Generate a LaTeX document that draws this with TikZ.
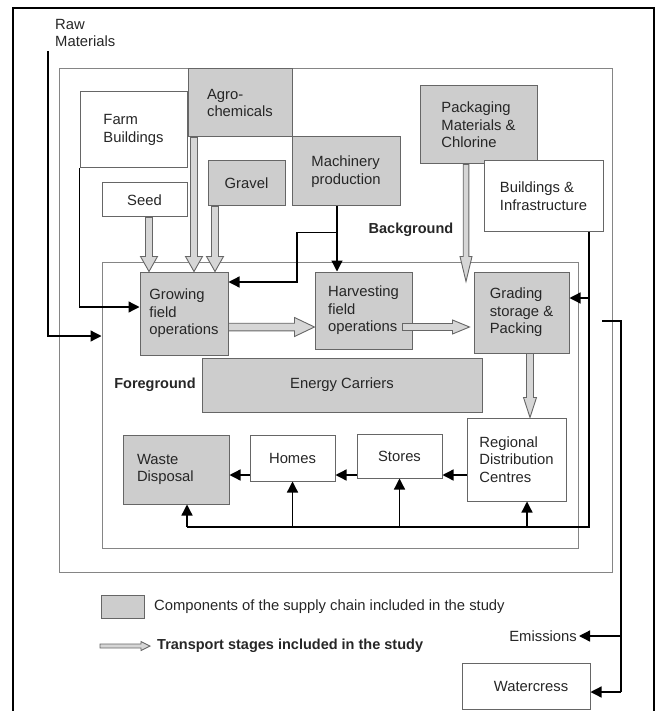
\documentclass[tikz,border=0pt]{standalone}
\usepackage{fontspec}
\setmainfont{Liberation Sans}
\usetikzlibrary{arrows.meta,calc}

\definecolor{boxgray}{HTML}{CDCDCD}
\definecolor{edgegray}{HTML}{666666}
\definecolor{framegray}{HTML}{858585}
\definecolor{arrowfill}{HTML}{D6D6D6}
\definecolor{ink}{HTML}{262626}

% hollow transport arrow pointing down: start, end, shaft half-width, head half-width, head length
\newcommand\blkdown[5]{%
  \draw[blockarrow] let \p1=#1, \p2=#2 in
    (\x1-#3,\y1) -- (\x1-#3,\y2+#5) -- (\x1-#4,\y2+#5) -- (\x1,\y2)
    -- (\x1+#4,\y2+#5) -- (\x1+#3,\y2+#5) -- (\x1+#3,\y1) -- cycle;}
% hollow transport arrow pointing right
\newcommand\blkright[5]{%
  \draw[blockarrow] let \p1=#1, \p2=#2 in
    (\x1,\y1-#3) -- (\x2-#5,\y1-#3) -- (\x2-#5,\y1-#4) -- (\x2,\y1)
    -- (\x2-#5,\y1+#4) -- (\x2-#5,\y1+#3) -- (\x1,\y1+#3) -- cycle;}

\tikzset{
  every node/.style={text=ink, font=\fontsize{14.8}{17.5}\selectfont},
  unit/.style={draw=edgegray, line width=1pt, inner sep=0pt, align=left, fill=white},
  incl/.style={unit, fill=boxgray},
  frame/.style={draw=framegray, line width=1pt, inner sep=0pt},
  link/.style={line width=1.3pt, draw=black, -{Triangle[length=11pt,width=11pt]}},
  plainlink/.style={line width=1.3pt, draw=black},
  blockarrow/.style={draw=edgegray, fill=arrowfill, line width=0.9pt},
  tag/.style={font=\fontsize{14.5}{17}\selectfont\bfseries, inner sep=0pt}
}

\begin{document}
\begin{tikzpicture}[x=1pt,y=-1pt]
\useasboundingbox (0,0) rectangle (658,711);

% page frame
\draw[line width=1.2pt] (13,712) -- (13,8) -- (654,8) -- (654,712);

% system boundaries
\node[frame, minimum width=553pt, minimum height=503pt] (bg) at (335.5,320.5) {};
\node[frame, minimum width=476pt, minimum height=286pt] (fg) at (340,405) {};
\node[tag] (bglabel) at (411,230) {Background};
\node[tag] (fglabel) at (155,385) {Foreground};
\node[anchor=north west, align=left, inner sep=0pt] (raw) at (55,19) {Raw\\Materials};

% background inputs
\node[unit, minimum width=107pt, minimum height=76pt] (farm) at (133.5,130) {Farm\\Buildings};
\node[incl, minimum width=104pt, minimum height=68pt] (agro) at (240,103) {Agro-\\chemicals};
\node[unit, minimum width=85pt, minimum height=34pt] (seed) at (144.5,200) {Seed};
\node[incl, minimum width=77pt, minimum height=45pt] (gravel) at (246.5,183.5) {Gravel};
\node[incl, minimum width=108pt, minimum height=69pt] (mach) at (346,171.5) {Machinery\\production};
\node[incl, minimum width=117pt, minimum height=78pt] (pack) at (478.5,125) {Packaging\\Materials \&\\Chlorine};
\node[unit, minimum width=119pt, minimum height=70pt] (bldg) at (543.5,196) {Buildings \&\\Infrastructure};

% foreground stages
\node[incl, minimum width=88pt, minimum height=83pt] (grow) at (184,313.5) {Growing\\field\\operations};
\node[incl, minimum width=97pt, minimum height=77pt] (harv) at (363.5,310.5) {Harvesting\\field\\operations};
\node[incl, minimum width=95pt, minimum height=81pt] (grade) at (521.5,312.5) {Grading\\storage \&\\Packing};
\node[incl, minimum width=280pt, minimum height=54pt] (energy) at (342,385) {Energy Carriers};
\node[incl, minimum height=69pt, text width=78pt, inner xsep=14pt] (waste) at (176,469.5) {Waste\\Disposal};
\node[unit, minimum width=85pt, minimum height=46pt] (homes) at (292.5,458) {Homes};
\node[unit, minimum width=85pt, minimum height=44pt] (stores) at (399.5,456) {Stores};
\node[unit, minimum width=99pt, minimum height=83pt] (rdc) at (516.5,459.5) {Regional\\Distribution\\Centres};

% outputs
\node[unit, minimum width=128pt, minimum height=46pt] (cress) at (526,686) {\hspace{10pt}Watercress};
\node[anchor=east, inner sep=2pt] (emis) at (579,636) {Emissions};

% transport stages
\blkdown{($(seed.south)+(4.5,0)$)}{(grow.north)}{3.5pt}{8.5pt}{15pt}
\blkdown{($(agro.south)+(-46,0)$)}{(grow.north)}{3.5pt}{8.5pt}{15pt}
\blkdown{($(gravel.south)+(-31.5,0)$)}{(grow.north)}{3.5pt}{8.5pt}{15pt}
\blkdown{($(pack.south)+(-12.5,0)$)}{($(grade.north)+(0,10)$)}{2.8pt}{6pt}{25pt}
\blkdown{($(grade.south)+(8.5,0)$)}{(rdc.north)}{3.5pt}{6.5pt}{20pt}
\blkright{($(grow.east)+(0,13.5)$)}{(harv.west)}{3.8pt}{9.5pt}{20pt}
\blkright{($(harv.east)+(-10,16.5)$)}{($(grade.west)+(-4,0)$)}{3.5pt}{7pt}{17pt}

% material and energy flows
\coordinate (rawtop) at (48,51);
\draw[link] (rawtop) |- ($(fg.west)+(0,-69)$);
\draw[link] (farm.south west) |- ($(grow.west)+(0,-6.5)$);

\coordinate (machout) at ($(mach.south)+(-9,0)$);
\coordinate (machsplit) at ($(mach.south)+(-9,26)$);
\draw[link] (machout) -- ($(harv.north)+(-26.5,0)$);
\draw[link] (machsplit) -- ++(-40,0) |- ($(grow.east)+(0,-31.5)$);

\coordinate (bldgout) at ($(bldg.south)+(45.5,0)$);
\coordinate (busR) at (589,527);
\coordinate (busL) at (187,527);
\coordinate (gradein) at ($(grade.east)+(0,-14.5)$);
\coordinate (rdcin) at ($(rdc.south)+(10.5,0)$);
\draw[plainlink] (bldgout) -- (busR) -- (busL);
\draw[link] (bldgout |- gradein) -- (gradein);
\draw[link] (busL) -- (busL |- waste.south);
\draw[link] (homes.south |- busR) -- (homes.south);
\draw[link] (stores.south |- busR) -- (stores.south);
\draw[link] (rdcin |- busR) -- (rdcin);

\coordinate (chain) at ($(rdc.west)+(0,15.5)$);
\draw[link] (chain) -- (stores.east |- chain);
\draw[link] (stores.west |- chain) -- (homes.east |- chain);
\draw[link] (homes.west |- chain) -- (waste.east |- chain);

% releases to the environment
\coordinate (estart) at (602,321);
\coordinate (ecorner) at (621,321);
\coordinate (eend) at (621,692);
\draw[plainlink] (estart) -- (ecorner) -- (eend);
\draw[link] (ecorner |- emis.east) -- (emis.east);
\draw[link] (eend) -- (cress.east |- eend);

% key
\node[incl, minimum width=43pt, minimum height=23pt] (key) at (122.5,606.5) {};
\node[anchor=west, inner sep=0pt] (keytext) at (154,607) {Components of the supply chain included in the study};
\coordinate (keyarrow) at (100,646);
\node[anchor=west, inner sep=0pt, font=\fontsize{14.5}{17}\selectfont\bfseries] (keytext2) at (157,646) {Transport stages included in the study};
\blkright{(keyarrow)}{($(keytext2.west)+(-7,0)$)}{2pt}{4.5pt}{9pt}
\end{tikzpicture}
\end{document}
